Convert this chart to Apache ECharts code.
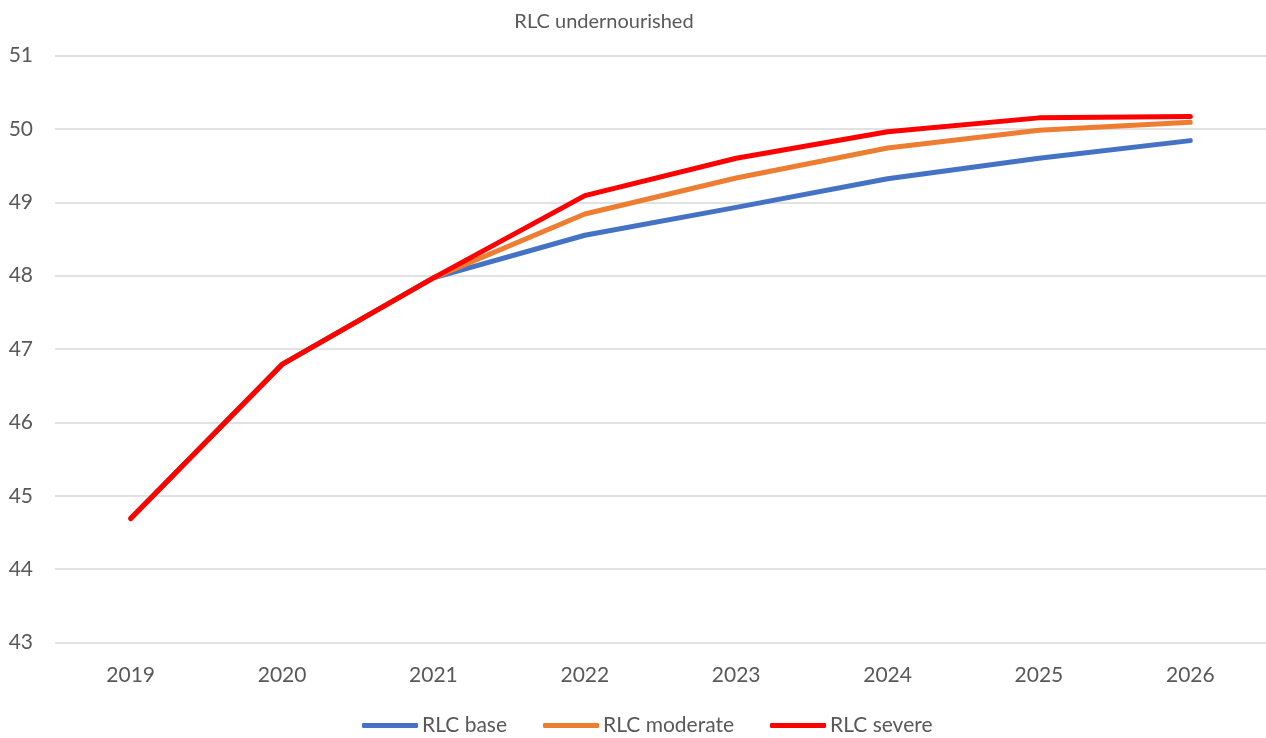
<!DOCTYPE html>
<html>
<head>
<meta charset="utf-8">
<script src="https://cdn.jsdelivr.net/npm/echarts@6/dist/echarts.min.js"></script>
<style>html,body{margin:0;padding:0;background:#fff;}#c{width:1266px;height:738px;}</style>
</head>
<body>
<div id="c"></div>
<script>
var years = ['2019','2020','2021','2022','2023','2024','2025','2026'];
var rlcBase = [44.69, 46.79, 47.97, 48.55, 48.93, 49.32, 49.60, 49.84];
var rlcModerate = [44.69, 46.79, 47.97, 48.84, 49.33, 49.74, 49.98, 50.09];
var rlcSevere = [44.69, 46.79, 47.97, 49.09, 49.60, 49.96, 50.15, 50.17];
var seriesNames = ['RLC base', 'RLC moderate', 'RLC severe'];

var font = 'Lato, "Open Sans", sans-serif';
var chart = echarts.init(document.getElementById('c'));
function mk(name, data, color, z) {
  return {
    name: name, type: 'line', data: data, symbol: 'none', z: z,
    lineStyle: { color: color, width: 5, cap: 'round', join: 'round' },
    itemStyle: { color: color }
  };
}
chart.setOption({
  animation: false,
  title: {
    text: 'RLC undernourished', left: 599, top: 7, textAlign: 'center',
    textStyle: { fontFamily: font, fontSize: 20, fontWeight: 'normal', color: '#595959' }
  },
  legend: {
    top: 710, left: 357, padding: 5, itemWidth: 56, itemHeight: 5, itemGap: 36,
    icon: 'roundRect',
    textStyle: { fontFamily: font, fontSize: 21, color: '#595959', padding: [0,0,0,-1] },
    data: seriesNames
  },
  grid: { left: 55, right: 0, top: 55.5, bottom: 95.5 },
  xAxis: {
    type: 'category', data: years, boundaryGap: true,
    axisLine: { show: false }, axisTick: { show: false },
    axisLabel: { fontFamily: font, fontSize: 21, color: '#595959', margin: 22 }
  },
  yAxis: {
    type: 'value', min: 43, max: 51, interval: 1,
    axisLine: { show: false }, axisTick: { show: false },
    axisLabel: { fontFamily: font, fontSize: 21, color: '#595959', margin: 22 },
    splitLine: { lineStyle: { color: '#d9d9d9', width: 1.5 } }
  },
  series: [
    mk(seriesNames[0], rlcBase, '#4472C4', 2),
    mk(seriesNames[1], rlcModerate, '#ED7D31', 3),
    mk(seriesNames[2], rlcSevere, '#FF0000', 4)
  ]
});
</script>
</body>
</html>
